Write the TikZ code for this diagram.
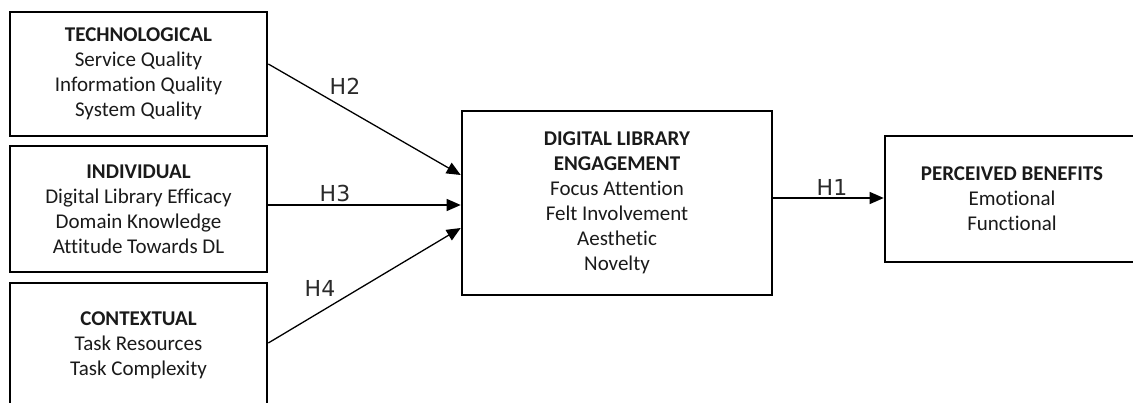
\documentclass[tikz,border=0pt]{standalone}
\usepackage{fontspec}
\setmainfont{Carlito}[Ligatures=NoCommon]
\newfontfamily\hfont{DejaVu Sans}
\usetikzlibrary{arrows.meta}
\definecolor{txt}{HTML}{1A1A1A}
\definecolor{lbl}{HTML}{2A2A2A}
\tikzset{
  box/.style={draw=black, line width=2.6pt, rectangle, inner sep=0pt, align=center,
    text=txt, font=\fontsize{21}{25}\selectfont},
  conn/.style={line width=1.3pt, -{Triangle[length=14pt,width=12pt]}},
  hlab/.style={text=lbl, font=\hfont\fontsize{22}{24}\selectfont, inner sep=0pt}
}
\begin{document}
\begin{tikzpicture}[x=1pt,y=-1pt]
\useasboundingbox (0,0) rectangle (1133,403);
\clip (0,0) rectangle (1133,403);
\node[box, minimum width=257pt, minimum height=124pt] (tech) at (138.5,74)
  {\textbf{TECHNOLOGICAL}\\Service Quality\\Information Quality\\System Quality};
\node[box, minimum width=257pt, minimum height=126pt] (ind) at (138.5,209)
  {\textbf{INDIVIDUAL}\\Digital Library Efficacy\\Domain Knowledge\\Attitude Towards DL};
\node[box, minimum width=257pt, minimum height=124pt] (cont) at (138.5,345)
  {\textbf{CONTEXTUAL}\\Task Resources\\Task Complexity};
\node[box, minimum width=310pt, minimum height=184pt] (dl) at (617,203)
  {\textbf{DIGITAL LIBRARY}\\\textbf{ENGAGEMENT}\\Focus Attention\\Felt Involvement\\Aesthetic\\Novelty};
\node[box, minimum width=254pt, minimum height=126pt] (pb) at (1012,199)
  {\textbf{PERCEIVED BENEFITS}\\Emotional\\Functional};
\draw[conn] ([yshift=10pt]tech.east) -- ([yshift=28pt]dl.west);
\draw[conn] ([yshift=4pt]ind.east) -- ([yshift=-2pt]dl.west);
\draw[conn] ([yshift=2pt]cont.east) -- ([yshift=-25pt]dl.west);
\draw[conn] ([yshift=5pt]dl.east) -- ([yshift=1pt]pb.west);
\node[hlab] (h2) at (345,86) {H2};
\node[hlab] (h3) at (335,193) {H3};
\node[hlab] (h4) at (320,288) {H4};
\node[hlab] (h1) at (832,187) {H1};
\end{tikzpicture}
\end{document}
